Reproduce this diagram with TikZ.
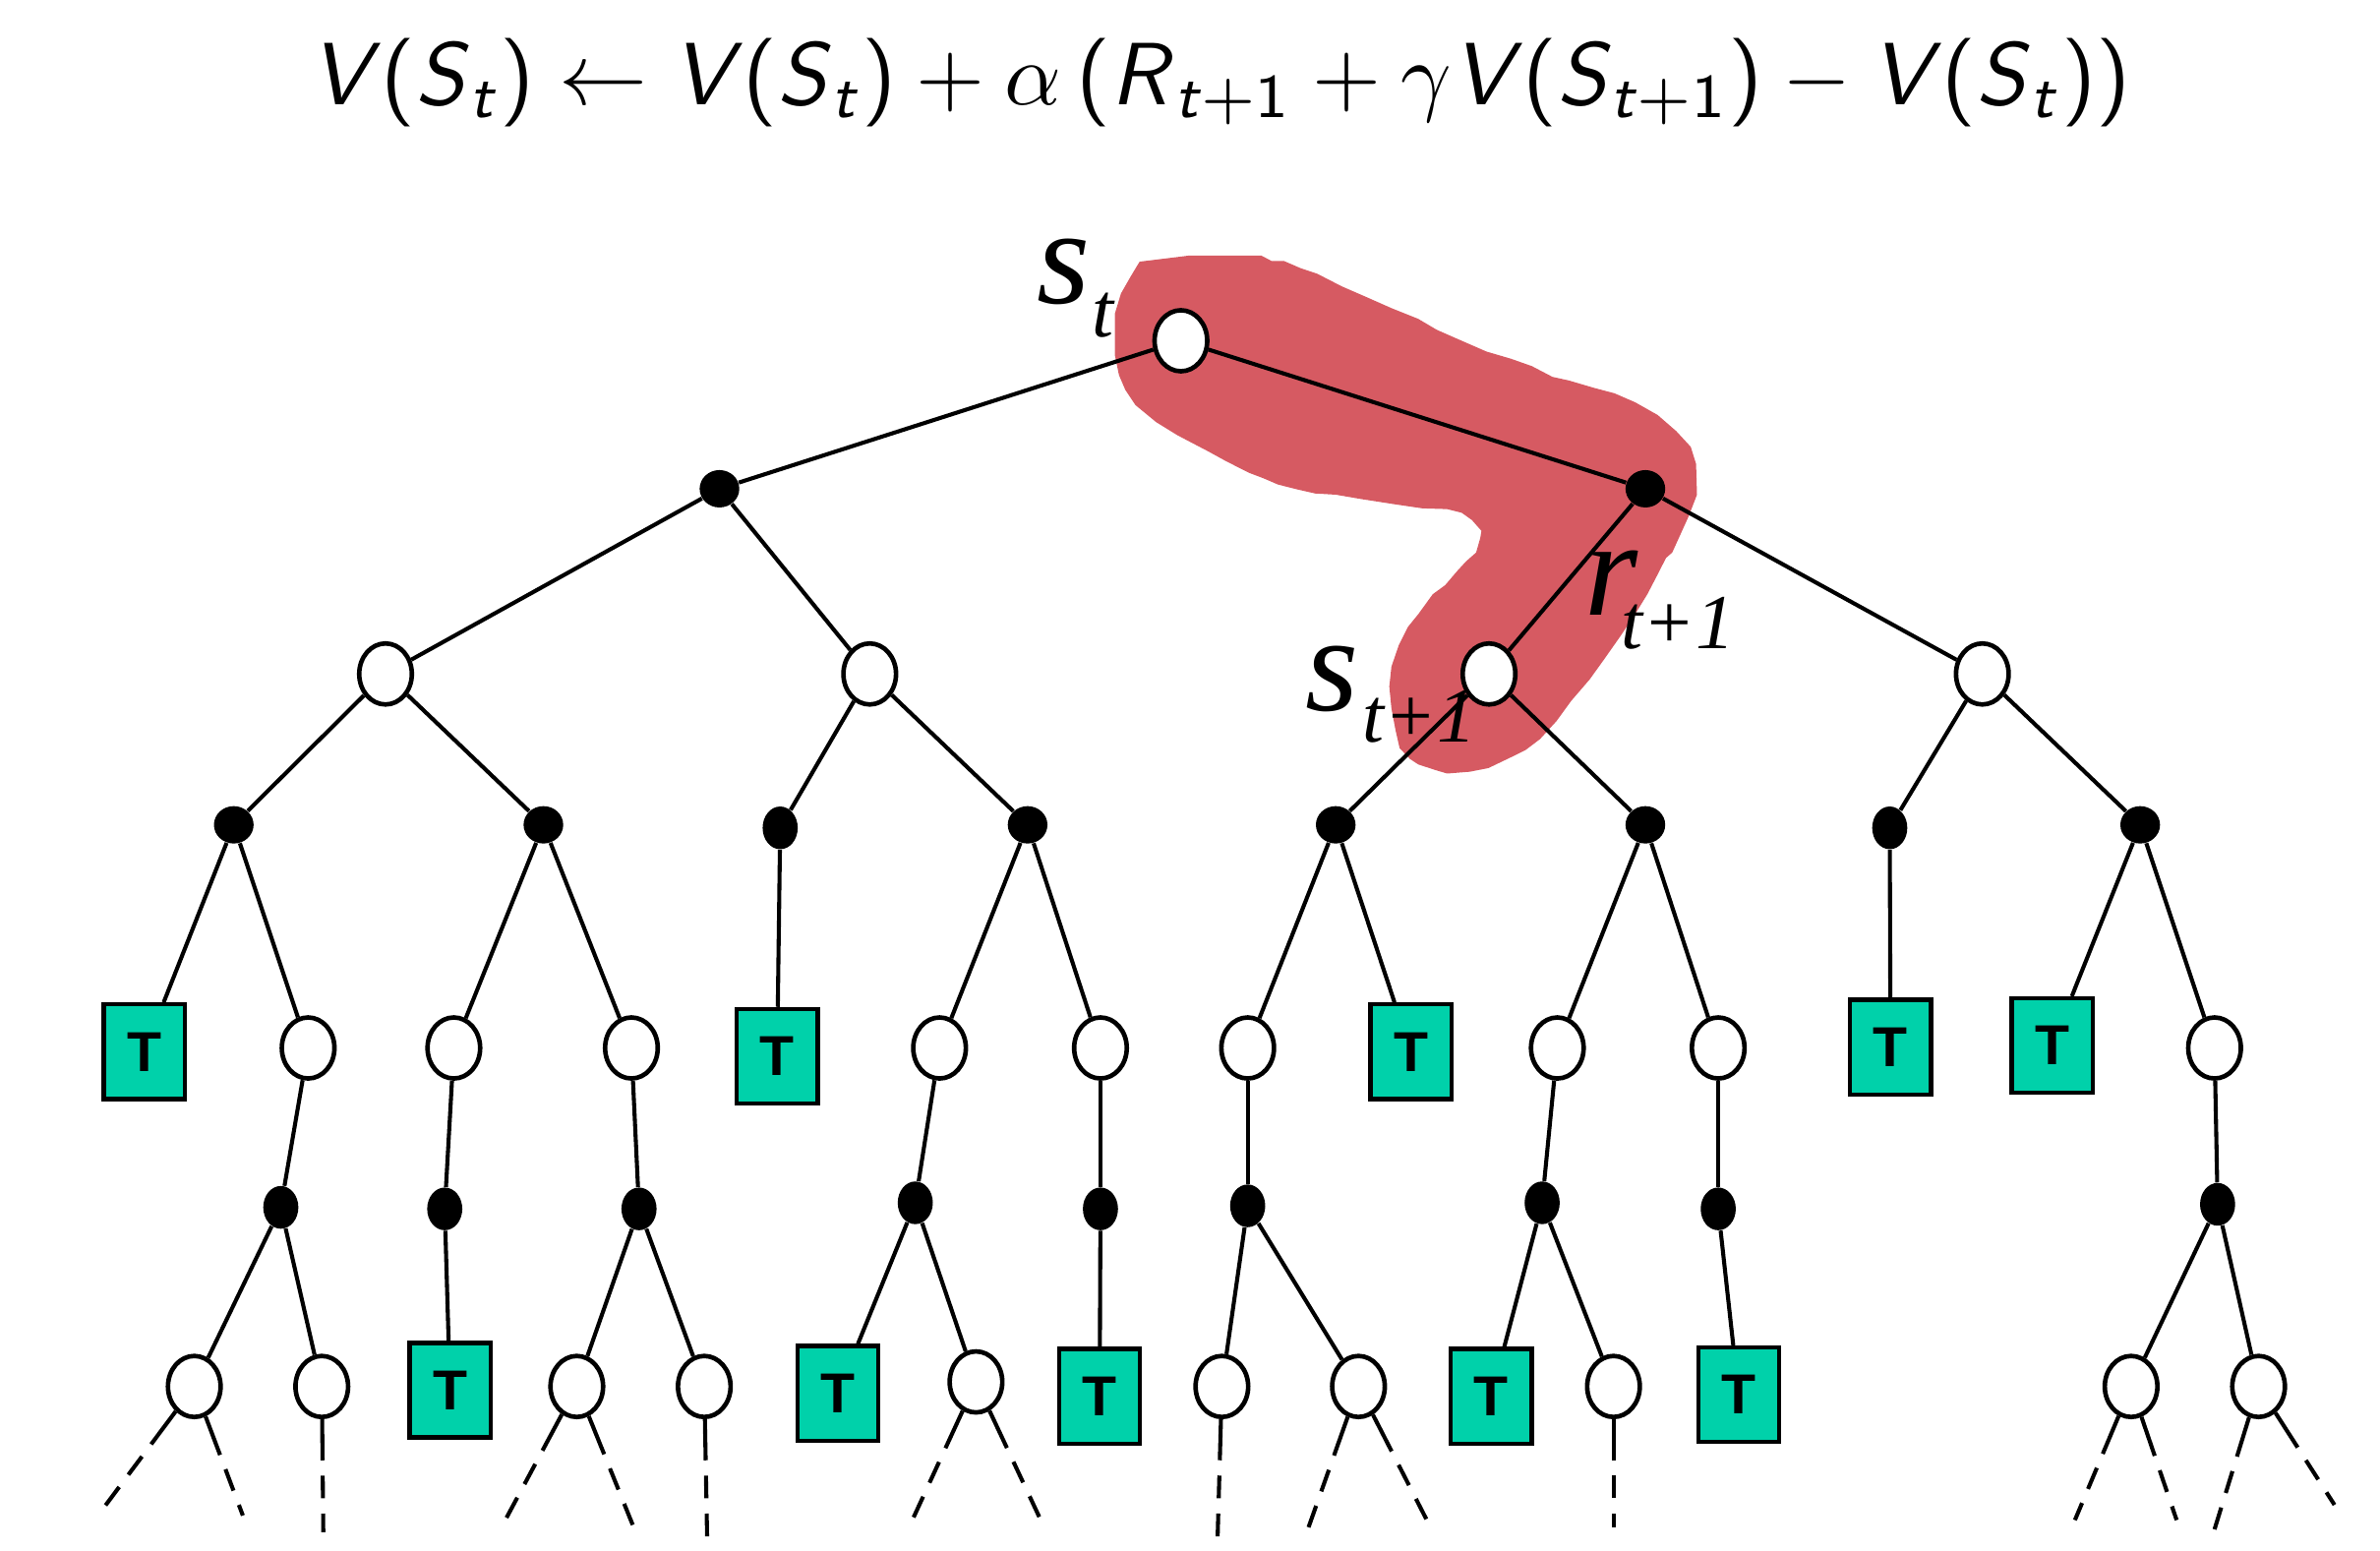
\RequirePackage{fix-cm}
\documentclass[tikz,border=0pt]{standalone}
\usepackage{amsmath}
\usepackage{fontspec}
\newfontfamily\tms{Liberation Serif}
\newfontfamily\arl{Liberation Sans}
\usetikzlibrary{shapes.geometric}
\definecolor{blobred}{RGB}{214,90,98}
\definecolor{tgreen}{RGB}{0,209,170}
\newcommand\iv[1]{\textsf{\slshape #1\/}}
\newcommand\up[1]{\textsf{#1}}
\begin{document}
\begin{tikzpicture}[x=0.019898cm,y=-0.019898cm,
  wnode/.style={ellipse,draw,line width=1.7pt,fill=white,minimum width=0.69cm,minimum height=0.80cm,inner sep=0pt},
  bnode/.style={ellipse,fill=black,minimum width=0.52cm,minimum height=0.49cm,inner sep=0pt},
  bnodet/.style={ellipse,fill=black,minimum width=0.46cm,minimum height=0.56cm,inner sep=0pt},
  tbox/.style={rectangle,draw,line width=1.6pt,fill=tgreen,minimum width=1.06cm,minimum height=1.24cm,inner sep=0pt,font=\arl\bfseries\fontsize{21}{21}\selectfont},
  edge/.style={line width=1.5pt},
  dedge/.style={line width=1.5pt,dash pattern=on 15.3pt off 5.7pt on 8.5pt off 5.7pt on 8.5pt off 30pt},
  lbl/.style={anchor=base west,inner sep=0pt,font=\tms\itshape}]
\useasboundingbox (0,0) rectangle (1568,1021.2);

% red highlight
\fill[blobred] (750.8,172.4) -- (783.4,168.4) -- (831.0,168.4) -- (837.8,172.0) -- (846.0,172.0) -- (856.9,176.7) -- (867.7,180.3) -- (884.1,188.7) -- (900.4,195.8) -- (916.7,203.0) -- (934.4,210.1) -- (946.6,217.3) -- (963.0,224.5) -- (979.3,231.6) -- (995.6,236.4) -- (1009.2,241.2) -- (1022.8,248.3) -- (1033.7,250.7) -- (1050.0,255.5) -- (1063.6,259.1) -- (1077.2,265.0) -- (1092.1,273.4) -- (1104.4,284.1) -- (1113.9,294.4) -- (1117.4,305.6) -- (1118.0,325.9) -- (1112.5,340.2) -- (1107.1,352.1) -- (1101.7,364.0) -- (1097.6,367.6) -- (1092.1,378.4) -- (1085.3,391.5) -- (1077.2,404.6) -- (1067.7,418.9) -- (1056.8,434.4) -- (1047.3,447.6) -- (1035.0,461.9) -- (1025.5,475.0) -- (1014.6,486.9) -- (1005.1,494.1) -- (995.6,498.8) -- (980.6,506.0) -- (968.4,508.4) -- (953.4,509.6) -- (945.3,507.2) -- (934.4,503.6) -- (928.9,500.0) -- (922.1,492.9) -- (919.4,481.0) -- (916.7,466.6) -- (915.3,452.3) -- (916.7,439.2) -- (921.6,424.9) -- (927.6,413.0) -- (934.4,404.6) -- (943.9,391.5) -- (952.1,385.5) -- (960.2,376.0) -- (965.7,370.0) -- (972.5,364.0) -- (975.2,354.5) -- (976.0,349.7) -- (969.7,342.6) -- (963.0,337.8) -- (953.4,335.4) -- (937.1,334.9) -- (919.4,332.3) -- (896.3,328.7) -- (880.0,325.9) -- (866.4,325.1) -- (854.1,322.3) -- (841.9,319.2) -- (832.4,315.1) -- (822.9,311.5) -- (807.9,303.9) -- (795.7,297.2) -- (782.1,290.1) -- (775.3,286.5) -- (761.7,278.1) -- (748.1,266.9) -- (741.3,256.7) -- (737.2,247.1) -- (734.5,234.0) -- (734.5,206.6) -- (738.5,193.4) -- (745.3,181.5) -- cycle;

% formula
\node[anchor=base,inner sep=0pt] (eq) at (804,69) {\scalebox{3.30}{\fontsize{10}{12}\selectfont
  $\iv{V}\up{(}\iv{S}_{\iv{t}}\up{)} \leftarrow \iv{V}\up{(}\iv{S}_{\iv{t}}\up{)} + \alpha\,\up{(}\iv{R}_{\iv{t}+\up{1}} + \gamma\iv{V}\up{(}\iv{S}_{\iv{t}+\up{1}}\up{)} - \iv{V}\up{(}\iv{S}_{\iv{t}}\up{))}$}};

% level 0-2
\node[wnode] (r0) at (778,224.5) {};
\node[bnode] (a1) at (474,322) {};
\node[bnode] (a2) at (1084,322) {};
\node[wnode] (b1) at (254,444) {};
\node[wnode] (b2) at (573,444) {};
\node[wnode] (b3) at (981,444) {};
\node[wnode] (b4) at (1306,444) {};
% level 3
\node[bnode] (c1) at (154,543.4) {};
\node[bnode] (c2) at (358,543.4) {};
\node[bnodet] (c3) at (514,545.4) {};
\node[bnode] (c4) at (677,543.4) {};
\node[bnode] (c5) at (880,543.4) {};
\node[bnode] (c6) at (1084,543.4) {};
\node[bnodet] (c7) at (1245,545.4) {};
\node[bnode] (c8) at (1410,543.4) {};
% level 4
\node[tbox] (d1) at (95,692.9) {T};
\node[wnode] (d2) at (203,690.4) {};
\node[wnode] (d3) at (299,690.4) {};
\node[wnode] (d4) at (416,690.4) {};
\node[tbox] (d5) at (512,695.9) {T};
\node[wnode] (d6) at (619,690.4) {};
\node[wnode] (d7) at (725,690.4) {};
\node[wnode] (d8) at (822,690.4) {};
\node[tbox] (d9) at (929.5,692.9) {T};
\node[wnode] (d10) at (1026,690.4) {};
\node[wnode] (d11) at (1132,690.4) {};
\node[tbox] (d12) at (1245.5,689.9) {T};
\node[tbox] (d13) at (1352,688.9) {T};
\node[wnode] (d14) at (1459,690.4) {};
% level 5
\node[bnodet] (e1) at (185,795.4) {};
\node[bnodet] (e2) at (293,796.4) {};
\node[bnodet] (e3) at (421,796.4) {};
\node[bnodet] (e4) at (603,792.4) {};
\node[bnodet] (e5) at (725,796.4) {};
\node[bnodet] (e6) at (822,794.4) {};
\node[bnodet] (e7) at (1016,792.4) {};
\node[bnodet] (e8) at (1132,796.4) {};
\node[bnodet] (e9) at (1461,793.4) {};
% level 6
\node[wnode] (f1) at (128,913.4) {};
\node[wnode] (f2) at (212,913.4) {};
\node[tbox] (f3) at (296.5,915.9) {T};
\node[wnode] (f4) at (380,913.4) {};
\node[wnode] (f5) at (464,913.4) {};
\node[tbox] (f6) at (552,917.9) {T};
\node[wnode] (f7) at (643,910.4) {};
\node[tbox] (f8) at (724.5,919.9) {T};
\node[wnode] (f9) at (805,913.4) {};
\node[wnode] (f10) at (895,913.4) {};
\node[tbox] (f11) at (982.5,919.9) {T};
\node[wnode] (f12) at (1063,913.4) {};
\node[tbox] (f13) at (1145.5,918.9) {T};
\node[wnode] (f14) at (1404,913.4) {};
\node[wnode] (f15) at (1488,913.4) {};

% dashed ends
\coordinate (g1) at (69,992.4);
\coordinate (g2) at (160,998.4);
\coordinate (g3) at (213,1009.4);
\coordinate (g4) at (327,1012.4);
\coordinate (g5) at (420,1012.4);
\coordinate (g6) at (466,1019.4);
\coordinate (g7) at (596,1012.4);
\coordinate (g8) at (688,1006.4);
\coordinate (g9) at (802,1019.4);
\coordinate (g10) at (862,1006.4);
\coordinate (g11) at (940,1001.4);
\coordinate (g12) at (1063,1006.4);
\coordinate (g13) at (1367,1001.4);
\coordinate (g14) at (1434,1001.4);
\coordinate (g15) at (1455,1020.4);
\coordinate (g16) at (1538,991.4);

\draw[edge] (r0) -- (a1);
\draw[edge] (r0) -- (a2);
\draw[edge] (a1) -- (b1);
\draw[edge] (a1) -- (b2);
\draw[edge] (a2) -- (b3);
\draw[edge] (a2) -- (b4);
\draw[edge] (b1) -- (c1);
\draw[edge] (b1) -- (c2);
\draw[edge] (b2) -- (c3);
\draw[edge] (b2) -- (c4);
\draw[edge] (b3) -- (c5);
\draw[edge] (b3) -- (c6);
\draw[edge] (b4) -- (c7);
\draw[edge] (b4) -- (c8);
\draw[edge] (c1) -- (d1);
\draw[edge] (c1) -- (d2);
\draw[edge] (c2) -- (d3);
\draw[edge] (c2) -- (d4);
\draw[edge] (c3) -- (d5);
\draw[edge] (c4) -- (d6);
\draw[edge] (c4) -- (d7);
\draw[edge] (c5) -- (d8);
\draw[edge] (c5) -- (d9);
\draw[edge] (c6) -- (d10);
\draw[edge] (c6) -- (d11);
\draw[edge] (c7) -- (d12);
\draw[edge] (c8) -- (d13);
\draw[edge] (c8) -- (d14);
\draw[edge] (d2) -- (e1);
\draw[edge] (d3) -- (e2);
\draw[edge] (d4) -- (e3);
\draw[edge] (d6) -- (e4);
\draw[edge] (d7) -- (e5);
\draw[edge] (d8) -- (e6);
\draw[edge] (d10) -- (e7);
\draw[edge] (d11) -- (e8);
\draw[edge] (d14) -- (e9);
\draw[edge] (e1) -- (f1);
\draw[edge] (e1) -- (f2);
\draw[edge] (e2) -- (f3);
\draw[edge] (e3) -- (f4);
\draw[edge] (e3) -- (f5);
\draw[edge] (e4) -- (f6);
\draw[edge] (e4) -- (f7);
\draw[edge] (e5) -- (f8);
\draw[edge] (e6) -- (f9);
\draw[edge] (e6) -- (f10);
\draw[edge] (e7) -- (f11);
\draw[edge] (e7) -- (f12);
\draw[edge] (e8) -- (f13);
\draw[edge] (e9) -- (f14);
\draw[edge] (e9) -- (f15);
\draw[dedge] (f1) -- (g1);
\draw[dedge] (f1) -- (g2);
\draw[dedge] (f2) -- (g3);
\draw[dedge] (f4) -- (g4);
\draw[dedge] (f4) -- (g5);
\draw[dedge] (f5) -- (g6);
\draw[dedge] (f7) -- (g7);
\draw[dedge] (f7) -- (g8);
\draw[dedge] (f9) -- (g9);
\draw[dedge] (f10) -- (g10);
\draw[dedge] (f10) -- (g11);
\draw[dedge] (f12) -- (g12);
\draw[dedge] (f14) -- (g13);
\draw[dedge] (f14) -- (g14);
\draw[dedge] (f15) -- (g15);
\draw[dedge] (f15) -- (g16);

% labels
\node[lbl] (lst) at (683,200) {\fontsize{51}{51}\selectfont s\kern0.02cm\raisebox{-0.43cm}{\fontsize{29}{29}\selectfont t}};
\node[lbl] (lrt) at (1044,405) {\fontsize{51}{51}\selectfont r\kern-0.22cm\raisebox{-0.44cm}{\fontsize{29}{29}\selectfont t+1}};
\node[lbl] (lst1) at (860,468) {\fontsize{51}{51}\selectfont s\kern0.05cm\raisebox{-0.42cm}{\fontsize{29}{29}\selectfont t+1}};
\end{tikzpicture}
\end{document}
